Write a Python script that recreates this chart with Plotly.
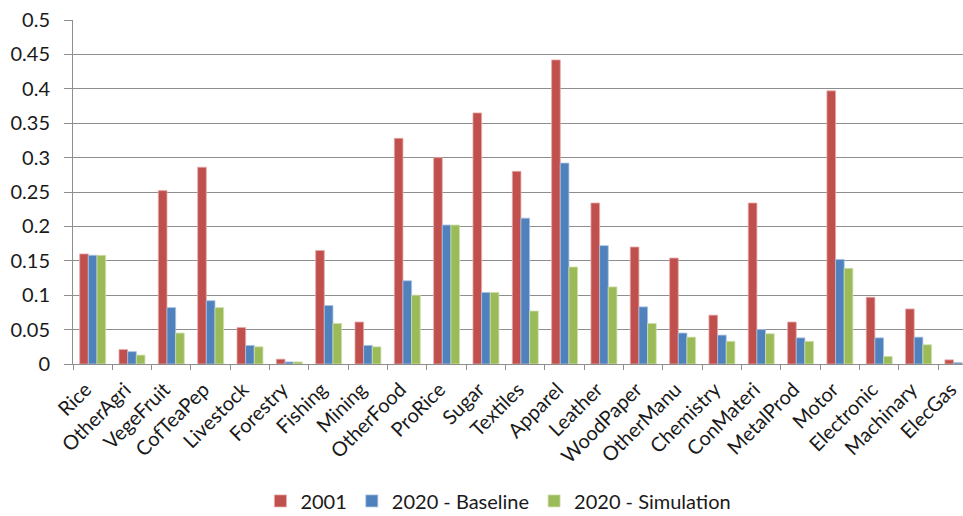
import plotly.graph_objects as go

sectors = ["Rice", "OtherAgri", "VegeFruit", "CofTeaPep", "Livestock", "Forestry",
           "Fishing", "Mining", "OtherFood", "ProRice", "Sugar", "Textiles",
           "Apparel", "Leather", "WoodPaper", "OtherManu", "Chemistry", "ConMateri",
           "MetalProd", "Motor", "Electronic", "Machinary", "ElecGas"]

y2001 = [0.160, 0.021, 0.252, 0.286, 0.053, 0.007, 0.165, 0.061, 0.328, 0.300,
         0.365, 0.280, 0.442, 0.234, 0.170, 0.154, 0.071, 0.234, 0.061, 0.397,
         0.097, 0.080, 0.006]
baseline2020 = [0.158, 0.018, 0.082, 0.092, 0.027, 0.003, 0.085, 0.027, 0.121, 0.202,
                0.104, 0.212, 0.292, 0.172, 0.083, 0.045, 0.042, 0.050, 0.038, 0.152,
                0.038, 0.039, 0.002]
simulation2020 = [0.158, 0.013, 0.045, 0.082, 0.025, 0.003, 0.059, 0.025, 0.100, 0.202,
                  0.104, 0.077, 0.141, 0.112, 0.059, 0.039, 0.033, 0.044, 0.033, 0.139,
                  0.011, 0.028, 0.001]

y_ticks = [0, 0.05, 0.1, 0.15, 0.2, 0.25, 0.3, 0.35, 0.4, 0.45, 0.5]
y_tick_text = ["0", "0.05", "0.1", "0.15", "0.2", "0.25", "0.3", "0.35", "0.4", "0.45", "0.5"]

series = [
    ("2001", y2001, "#C0504D", "#E6A9A7"),
    ("2020 - Baseline", baseline2020, "#4F81BD", "#A9C2E2"),
    ("2020 - Simulation", simulation2020, "#9BBB59", "#CFE0AE"),
]

fig = go.Figure()
for name, vals, color, edge in series:
    fig.add_trace(go.Bar(
        name=name, x=sectors, y=vals,
        marker=dict(color=color, line=dict(color=edge, width=0.8)),
    ))

font_family = "Lato, 'Liberation Sans', sans-serif"

fig.update_layout(
    width=963, height=516,
    margin=dict(l=73, r=0, t=20, b=152, autoexpand=False),
    paper_bgcolor="white", plot_bgcolor="white",
    barmode="group", bargap=0.34, bargroupgap=0,
    font=dict(family=font_family, size=20, color="#1a1a1a"),
    showlegend=True,
    legend=dict(orientation="h", x=0.478, xanchor="center", y=-0.398, yanchor="middle",
                font=dict(size=20, color="#1a1a1a"), traceorder="normal",
                itemwidth=30, borderwidth=0),
    xaxis=dict(
        range=[-0.5, 22.13], type="category", automargin=False,
        tickangle=-45, tickfont=dict(size=20), ticklabelstandoff=5,
        ticklabelshift=-7,
        showline=True, linecolor="#8E8E8E", linewidth=1,
        ticks="outside", ticklen=5, tickcolor="#8E8E8E", tickson="boundaries",
        showgrid=False,
    ),
    yaxis=dict(
        range=[0, 0.5], tickvals=y_ticks, ticktext=y_tick_text, automargin=False,
        tickfont=dict(size=20), ticklabelstandoff=10,
        showline=True, linecolor="#8E8E8E", linewidth=1,
        ticks="outside", ticklen=8, tickcolor="#8E8E8E",
        showgrid=True, gridcolor="#8E8E8E", gridwidth=1,
        zeroline=False,
    ),
)

fig.write_html("out.html")
